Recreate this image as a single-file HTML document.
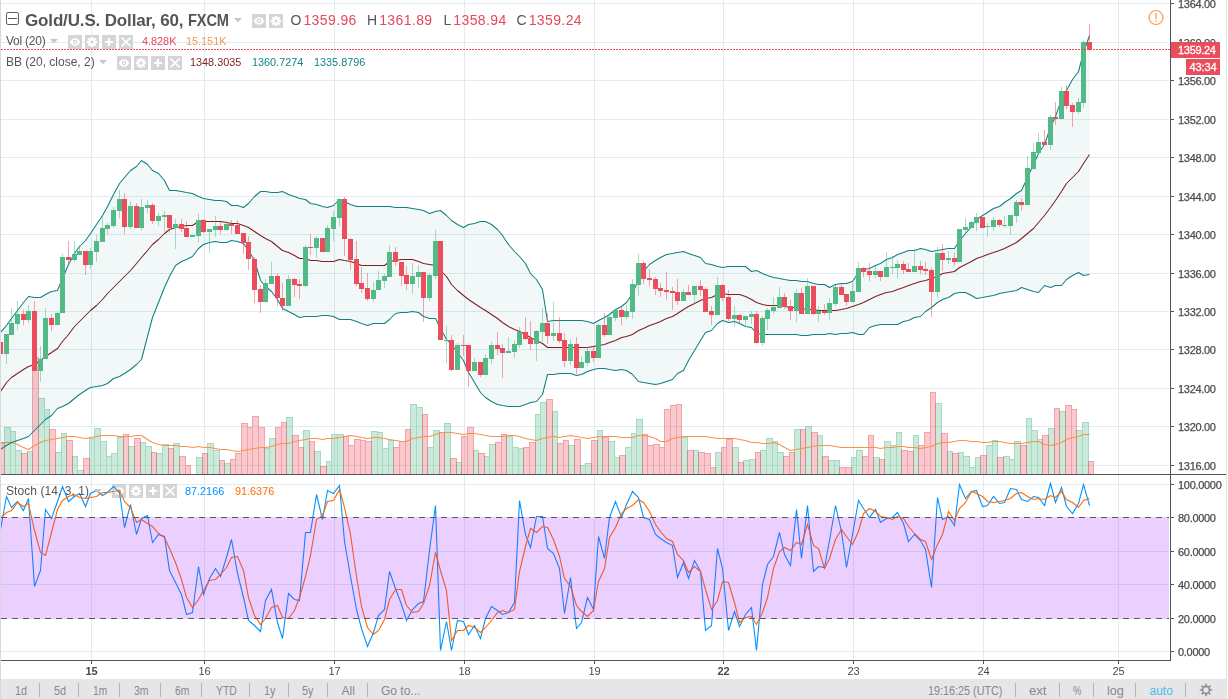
<!DOCTYPE html><html><head><meta charset="utf-8"><title>chart</title><style>
html,body{margin:0;padding:0;background:#fff;}
body{width:1228px;height:699px;position:relative;overflow:hidden;font-family:"Liberation Sans",sans-serif;}
.t{position:absolute;white-space:nowrap;line-height:1;}
.btn{position:absolute;width:13.5px;height:13.5px;background:rgba(198,198,198,.78);}
.tb{position:absolute;left:1px;top:679px;width:1225px;height:20px;background:#e6e6e8;}
.tb span{position:absolute;top:4.5px;font-size:12px;color:#858893;line-height:14px;white-space:nowrap;}
.tb i{position:absolute;top:4px;width:1px;height:14px;background:#b4b4b6;}
</style></head><body>
<svg width="1228" height="699" viewBox="0 0 1228 699" style="position:absolute;left:0;top:0;will-change:transform">
<defs><clipPath id="cm"><rect x="1" y="0" width="1169" height="474"/></clipPath></defs>
<path d="M1 3.5H1169 M1 42.5H1169 M1 80.5H1169 M1 119.5H1169 M1 157.5H1169 M1 196.5H1169 M1 234.5H1169 M1 273.5H1169 M1 311.5H1169 M1 349.5H1169 M1 388.5H1169 M1 426.5H1169 M1 465.5H1169 M91.5 0V474 M204.5 0V474 M334.5 0V474 M464.5 0V474 M594.5 0V474 M723.5 0V474 M853.5 0V474 M983.5 0V474 M1118.5 0V474 M1 484.5H1169 M1 551.5H1169 M1 584.5H1169 M1 651.5H1169 M91.5 475V660 M204.5 475V660 M334.5 475V660 M464.5 475V660 M594.5 475V660 M723.5 475V660 M853.5 475V660 M983.5 475V660 M1118.5 475V660" stroke="#e1ecf2" stroke-width="1" fill="none" shape-rendering="crispEdges"/>
<g clip-path="url(#cm)">
<path d="M4 427H11V474H4Z M10 431H16V474H10Z M15 450H22V474H15Z M27 451H33V474H27Z M38 398H45V474H38Z M44 409H50V474H44Z M55 452H62V474H55Z M61 433H67V474H61Z M72 456H78V474H72Z M77 470H84V474H77Z M89 438H95V474H89Z M94 428H101V474H94Z M100 441H107V474H100Z M106 456H112V474H106Z M111 453H118V474H111Z M117 437H124V474H117Z M128 446H135V474H128Z M140 442H146V474H140Z M145 446H152V474H145Z M156 453H163V474H156Z M162 444H169V474H162Z M173 443H180V474H173Z M190 474H197V474H190Z M196 457H203V474H196Z M207 443H214V474H207Z M213 450H220V474H213Z M224 463H231V474H224Z M264 448H270V474H264Z M269 438H276V474H269Z M286 417H293V474H286Z M303 430H310V474H303Z M314 451H321V474H314Z M326 461H332V474H326Z M331 434H338V474H331Z M337 434H344V474H337Z M371 431H378V474H371Z M377 432H383V474H377Z M382 448H389V474H382Z M388 440H394V474H388Z M410 404H417V474H410Z M416 407H423V474H416Z M427 447H434V474H427Z M433 430H440V474H433Z M444 423H451V474H444Z M456 462H462V474H456Z M473 450H479V474H473Z M484 456H490V474H484Z M489 444H496V474H489Z M506 436H513V474H506Z M512 447H519V474H512Z M518 448H524V474H518Z M535 414H541V474H535Z M540 402H547V474H540Z M552 411H558V474H552Z M568 445H575V474H568Z M580 465H586V474H580Z M585 463H592V474H585Z M597 430H603V474H597Z M608 441H615V474H608Z M614 457H620V474H614Z M625 447H632V474H625Z M631 433H637V474H631Z M636 419H643V474H636Z M681 437H688V474H681Z M693 450H699V474H693Z M715 452H722V474H715Z M732 447H739V474H732Z M743 460H750V474H743Z M749 459H756V474H749Z M760 450H767V474H760Z M766 438H773V474H766Z M772 441H778V474H772Z M777 452H784V474H777Z M794 429H801V474H794Z M805 426H812V474H805Z M817 435H823V474H817Z M828 460H835V474H828Z M834 460H840V474H834Z M851 457H857V474H851Z M856 450H863V474H856Z M873 457H880V474H873Z M884 441H891V474H884Z M890 445H897V474H890Z M896 432H902V474H896Z M913 435H919V474H913Z M935 403H942V474H935Z M947 451H953V474H947Z M958 452H964V474H958Z M963 456H970V474H963Z M969 467H976V474H969Z M975 457H981V474H975Z M986 445H993V474H986Z M992 440H998V474H992Z M1003 456H1010V474H1003Z M1009 459H1015V474H1009Z M1014 441H1021V474H1014Z M1026 418H1032V474H1026Z M1031 430H1038V474H1031Z M1037 439H1043V474H1037Z M1048 428H1055V474H1048Z M1059 411H1066V474H1059Z M1076 430H1083V474H1076Z M1082 422H1089V474H1082Z" fill="rgba(83,185,135,0.3)" shape-rendering="crispEdges"/>
<path d="M-2 443H5V474H-2Z M21 453H28V474H21Z M32 357H39V474H32Z M49 429H56V474H49Z M66 440H73V474H66Z M83 458H90V474H83Z M123 434H129V474H123Z M134 438H141V474H134Z M151 452H157V474H151Z M168 448H174V474H168Z M179 456H186V474H179Z M185 465H191V474H185Z M202 453H208V474H202Z M219 460H225V474H219Z M230 459H236V474H230Z M235 453H242V474H235Z M241 423H248V474H241Z M247 427H253V474H247Z M252 416H259V474H252Z M258 427H265V474H258Z M275 427H282V474H275Z M281 422H287V474H281Z M292 435H299V474H292Z M298 447H304V474H298Z M309 441H315V474H309Z M320 466H327V474H320Z M343 436H349V474H343Z M348 445H355V474H348Z M354 439H361V474H354Z M360 440H366V474H360Z M365 441H372V474H365Z M393 447H400V474H393Z M399 441H406V474H399Z M405 429H411V474H405Z M422 414H428V474H422Z M439 432H445V474H439Z M450 458H457V474H450Z M461 436H468V474H461Z M467 427H474V474H467Z M478 453H485V474H478Z M495 442H502V474H495Z M501 434H507V474H501Z M523 447H530V474H523Z M529 442H536V474H529Z M546 399H553V474H546Z M557 443H564V474H557Z M563 440H569V474H563Z M574 439H581V474H574Z M591 440H598V474H591Z M602 437H609V474H602Z M619 455H626V474H619Z M642 434H648V474H642Z M647 445H654V474H647Z M653 444H660V474H653Z M659 447H665V474H659Z M664 409H671V474H664Z M670 405H677V474H670Z M676 404H682V474H676Z M687 450H694V474H687Z M698 452H705V474H698Z M704 453H711V474H704Z M710 467H716V474H710Z M721 447H727V474H721Z M726 439H733V474H726Z M738 462H744V474H738Z M755 452H761V474H755Z M783 456H790V474H783Z M789 452H795V474H789Z M800 429H806V474H800Z M811 432H818V474H811Z M822 456H829V474H822Z M839 467H846V474H839Z M845 467H852V474H845Z M862 456H869V474H862Z M868 435H874V474H868Z M879 459H885V474H879Z M901 450H908V474H901Z M907 451H914V474H907Z M918 445H925V474H918Z M924 432H931V474H924Z M930 392H936V474H930Z M941 433H948V474H941Z M952 453H959V474H952Z M980 455H987V474H980Z M997 457H1004V474H997Z M1020 445H1027V474H1020Z M1042 435H1049V474H1042Z M1054 408H1060V474H1054Z M1065 405H1072V474H1065Z M1071 409H1077V474H1071Z M1088 461H1094V474H1088Z" fill="rgba(235,77,92,0.3)" shape-rendering="crispEdges"/>
<path d="M4.5 474V427.5H10.5V474 M10.5 474V431.5H15.5V474 M15.5 474V450.5H21.5V474 M27.5 474V451.5H32.5V474 M38.5 474V398.5H44.5V474 M44.5 474V409.5H49.5V474 M55.5 474V452.5H61.5V474 M61.5 474V433.5H66.5V474 M72.5 474V456.5H77.5V474 M77.5 474V470.5H83.5V474 M89.5 474V438.5H94.5V474 M94.5 474V428.5H100.5V474 M100.5 474V441.5H106.5V474 M106.5 474V456.5H111.5V474 M111.5 474V453.5H117.5V474 M117.5 474V437.5H123.5V474 M128.5 474V446.5H134.5V474 M140.5 474V442.5H145.5V474 M145.5 474V446.5H151.5V474 M156.5 474V453.5H162.5V474 M162.5 474V444.5H168.5V474 M173.5 474V443.5H179.5V474 M190.5 474V474.5H196.5V474 M196.5 474V457.5H202.5V474 M207.5 474V443.5H213.5V474 M213.5 474V450.5H219.5V474 M224.5 474V463.5H230.5V474 M264.5 474V448.5H269.5V474 M269.5 474V438.5H275.5V474 M286.5 474V417.5H292.5V474 M303.5 474V430.5H309.5V474 M314.5 474V451.5H320.5V474 M326.5 474V461.5H331.5V474 M331.5 474V434.5H337.5V474 M337.5 474V434.5H343.5V474 M371.5 474V431.5H377.5V474 M377.5 474V432.5H382.5V474 M382.5 474V448.5H388.5V474 M388.5 474V440.5H393.5V474 M410.5 474V404.5H416.5V474 M416.5 474V407.5H422.5V474 M427.5 474V447.5H433.5V474 M433.5 474V430.5H439.5V474 M444.5 474V423.5H450.5V474 M456.5 474V462.5H461.5V474 M473.5 474V450.5H478.5V474 M484.5 474V456.5H489.5V474 M489.5 474V444.5H495.5V474 M506.5 474V436.5H512.5V474 M512.5 474V447.5H518.5V474 M518.5 474V448.5H523.5V474 M535.5 474V414.5H540.5V474 M540.5 474V402.5H546.5V474 M552.5 474V411.5H557.5V474 M568.5 474V445.5H574.5V474 M580.5 474V465.5H585.5V474 M585.5 474V463.5H591.5V474 M597.5 474V430.5H602.5V474 M608.5 474V441.5H614.5V474 M614.5 474V457.5H619.5V474 M625.5 474V447.5H631.5V474 M631.5 474V433.5H636.5V474 M636.5 474V419.5H642.5V474 M681.5 474V437.5H687.5V474 M693.5 474V450.5H698.5V474 M715.5 474V452.5H721.5V474 M732.5 474V447.5H738.5V474 M743.5 474V460.5H749.5V474 M749.5 474V459.5H755.5V474 M760.5 474V450.5H766.5V474 M766.5 474V438.5H772.5V474 M772.5 474V441.5H777.5V474 M777.5 474V452.5H783.5V474 M794.5 474V429.5H800.5V474 M805.5 474V426.5H811.5V474 M817.5 474V435.5H822.5V474 M828.5 474V460.5H834.5V474 M834.5 474V460.5H839.5V474 M851.5 474V457.5H856.5V474 M856.5 474V450.5H862.5V474 M873.5 474V457.5H879.5V474 M884.5 474V441.5H890.5V474 M890.5 474V445.5H896.5V474 M896.5 474V432.5H901.5V474 M913.5 474V435.5H918.5V474 M935.5 474V403.5H941.5V474 M947.5 474V451.5H952.5V474 M958.5 474V452.5H963.5V474 M963.5 474V456.5H969.5V474 M969.5 474V467.5H975.5V474 M975.5 474V457.5H980.5V474 M986.5 474V445.5H992.5V474 M992.5 474V440.5H997.5V474 M1003.5 474V456.5H1009.5V474 M1009.5 474V459.5H1014.5V474 M1014.5 474V441.5H1020.5V474 M1026.5 474V418.5H1031.5V474 M1031.5 474V430.5H1037.5V474 M1037.5 474V439.5H1042.5V474 M1048.5 474V428.5H1054.5V474 M1059.5 474V411.5H1065.5V474 M1076.5 474V430.5H1082.5V474 M1082.5 474V422.5H1088.5V474" fill="none" stroke="rgba(83,185,135,0.32)" stroke-width="1" shape-rendering="crispEdges"/>
<path d="M-1.5 474V443.5H4.5V474 M21.5 474V453.5H27.5V474 M32.5 474V357.5H38.5V474 M49.5 474V429.5H55.5V474 M66.5 474V440.5H72.5V474 M83.5 474V458.5H89.5V474 M123.5 474V434.5H128.5V474 M134.5 474V438.5H140.5V474 M151.5 474V452.5H156.5V474 M168.5 474V448.5H173.5V474 M179.5 474V456.5H185.5V474 M185.5 474V465.5H190.5V474 M202.5 474V453.5H207.5V474 M219.5 474V460.5H224.5V474 M230.5 474V459.5H235.5V474 M235.5 474V453.5H241.5V474 M241.5 474V423.5H247.5V474 M247.5 474V427.5H252.5V474 M252.5 474V416.5H258.5V474 M258.5 474V427.5H264.5V474 M275.5 474V427.5H281.5V474 M281.5 474V422.5H286.5V474 M292.5 474V435.5H298.5V474 M298.5 474V447.5H303.5V474 M309.5 474V441.5H314.5V474 M320.5 474V466.5H326.5V474 M343.5 474V436.5H348.5V474 M348.5 474V445.5H354.5V474 M354.5 474V439.5H360.5V474 M360.5 474V440.5H365.5V474 M365.5 474V441.5H371.5V474 M393.5 474V447.5H399.5V474 M399.5 474V441.5H405.5V474 M405.5 474V429.5H410.5V474 M422.5 474V414.5H427.5V474 M439.5 474V432.5H444.5V474 M450.5 474V458.5H456.5V474 M461.5 474V436.5H467.5V474 M467.5 474V427.5H473.5V474 M478.5 474V453.5H484.5V474 M495.5 474V442.5H501.5V474 M501.5 474V434.5H506.5V474 M523.5 474V447.5H529.5V474 M529.5 474V442.5H535.5V474 M546.5 474V399.5H552.5V474 M557.5 474V443.5H563.5V474 M563.5 474V440.5H568.5V474 M574.5 474V439.5H580.5V474 M591.5 474V440.5H597.5V474 M602.5 474V437.5H608.5V474 M619.5 474V455.5H625.5V474 M642.5 474V434.5H647.5V474 M647.5 474V445.5H653.5V474 M653.5 474V444.5H659.5V474 M659.5 474V447.5H664.5V474 M664.5 474V409.5H670.5V474 M670.5 474V405.5H676.5V474 M676.5 474V404.5H681.5V474 M687.5 474V450.5H693.5V474 M698.5 474V452.5H704.5V474 M704.5 474V453.5H710.5V474 M710.5 474V467.5H715.5V474 M721.5 474V447.5H726.5V474 M726.5 474V439.5H732.5V474 M738.5 474V462.5H743.5V474 M755.5 474V452.5H760.5V474 M783.5 474V456.5H789.5V474 M789.5 474V452.5H794.5V474 M800.5 474V429.5H805.5V474 M811.5 474V432.5H817.5V474 M822.5 474V456.5H828.5V474 M839.5 474V467.5H845.5V474 M845.5 474V467.5H851.5V474 M862.5 474V456.5H868.5V474 M868.5 474V435.5H873.5V474 M879.5 474V459.5H884.5V474 M901.5 474V450.5H907.5V474 M907.5 474V451.5H913.5V474 M918.5 474V445.5H924.5V474 M924.5 474V432.5H930.5V474 M930.5 474V392.5H935.5V474 M941.5 474V433.5H947.5V474 M952.5 474V453.5H958.5V474 M980.5 474V455.5H986.5V474 M997.5 474V457.5H1003.5V474 M1020.5 474V445.5H1026.5V474 M1042.5 474V435.5H1048.5V474 M1054.5 474V408.5H1059.5V474 M1065.5 474V405.5H1071.5V474 M1071.5 474V409.5H1076.5V474 M1088.5 474V461.5H1093.5V474" fill="none" stroke="rgba(235,77,92,0.32)" stroke-width="1" shape-rendering="crispEdges"/>
<path d="M0.5 442.5 L6.5 442.5 L11.5 442.5 L17.5 444.5 L23.5 447.5 L28.5 449.5 L34.5 445.5 L40.5 442.5 L45.5 440.5 L51.5 439.5 L57.5 438.5 L62.5 437.5 L68.5 436.5 L74.5 436.5 L79.5 437.5 L85.5 438.5 L90.5 437.5 L96.5 436.5 L102.5 435.5 L107.5 435.5 L113.5 435.5 L119.5 436.5 L124.5 436.5 L130.5 436.5 L136.5 435.5 L141.5 435.5 L147.5 439.5 L152.5 442.5 L158.5 444.5 L164.5 445.5 L169.5 445.5 L175.5 445.5 L181.5 446.5 L186.5 446.5 L192.5 447.5 L198.5 446.5 L203.5 447.5 L209.5 447.5 L215.5 448.5 L220.5 449.5 L226.5 449.5 L231.5 450.5 L237.5 451.5 L243.5 450.5 L248.5 449.5 L254.5 448.5 L260.5 447.5 L265.5 447.5 L271.5 446.5 L277.5 444.5 L282.5 443.5 L288.5 443.5 L294.5 441.5 L299.5 440.5 L305.5 439.5 L310.5 438.5 L316.5 438.5 L322.5 439.5 L327.5 438.5 L333.5 438.5 L339.5 437.5 L344.5 436.5 L350.5 435.5 L356.5 436.5 L361.5 437.5 L367.5 438.5 L373.5 437.5 L378.5 437.5 L384.5 438.5 L389.5 439.5 L395.5 440.5 L401.5 441.5 L406.5 441.5 L412.5 438.5 L418.5 437.5 L423.5 436.5 L429.5 436.5 L435.5 434.5 L440.5 432.5 L446.5 432.5 L451.5 432.5 L457.5 433.5 L463.5 434.5 L468.5 433.5 L474.5 433.5 L480.5 434.5 L485.5 435.5 L491.5 436.5 L497.5 436.5 L502.5 436.5 L508.5 435.5 L514.5 435.5 L519.5 436.5 L525.5 438.5 L530.5 439.5 L536.5 440.5 L542.5 438.5 L547.5 437.5 L553.5 436.5 L559.5 437.5 L564.5 436.5 L570.5 435.5 L576.5 436.5 L581.5 437.5 L587.5 438.5 L593.5 437.5 L598.5 436.5 L604.5 436.5 L609.5 436.5 L615.5 436.5 L621.5 437.5 L626.5 437.5 L632.5 437.5 L638.5 435.5 L643.5 435.5 L649.5 436.5 L655.5 438.5 L660.5 441.5 L666.5 441.5 L672.5 438.5 L677.5 437.5 L683.5 436.5 L688.5 436.5 L694.5 436.5 L700.5 436.5 L705.5 436.5 L711.5 437.5 L717.5 438.5 L722.5 438.5 L728.5 438.5 L734.5 438.5 L739.5 439.5 L745.5 440.5 L751.5 442.5 L756.5 442.5 L762.5 443.5 L767.5 443.5 L773.5 442.5 L779.5 444.5 L784.5 447.5 L790.5 450.5 L796.5 449.5 L801.5 448.5 L807.5 447.5 L813.5 446.5 L818.5 445.5 L824.5 445.5 L829.5 445.5 L835.5 446.5 L841.5 447.5 L846.5 447.5 L852.5 447.5 L858.5 447.5 L863.5 447.5 L869.5 447.5 L875.5 447.5 L880.5 448.5 L886.5 447.5 L892.5 447.5 L897.5 446.5 L903.5 446.5 L908.5 447.5 L914.5 447.5 L920.5 448.5 L925.5 447.5 L931.5 446.5 L937.5 443.5 L942.5 442.5 L948.5 442.5 L954.5 441.5 L959.5 440.5 L965.5 440.5 L971.5 441.5 L976.5 441.5 L982.5 442.5 L987.5 442.5 L993.5 441.5 L999.5 441.5 L1004.5 442.5 L1010.5 443.5 L1016.5 443.5 L1021.5 443.5 L1027.5 442.5 L1033.5 441.5 L1038.5 441.5 L1044.5 444.5 L1050.5 445.5 L1055.5 444.5 L1061.5 442.5 L1066.5 439.5 L1072.5 437.5 L1078.5 436.5 L1083.5 434.5 L1089.5 434.5" fill="none" stroke="#f9924a" stroke-width="1.1" stroke-linejoin="round"/>
<path d="M0.5 332.5 L6.5 325.5 L11.5 318.5 L17.5 310.5 L23.5 302.5 L28.5 296.5 L34.5 297.5 L40.5 297.5 L45.5 294.5 L51.5 291.5 L57.5 290.5 L62.5 278.5 L68.5 264.5 L74.5 253.5 L79.5 246.5 L85.5 240.5 L90.5 233.5 L96.5 224.5 L102.5 215.5 L107.5 206.5 L113.5 194.5 L119.5 183.5 L124.5 177.5 L130.5 170.5 L136.5 166.5 L141.5 160.5 L147.5 164.5 L152.5 170.5 L158.5 173.5 L164.5 180.5 L169.5 190.5 L175.5 190.5 L181.5 191.5 L186.5 192.5 L192.5 193.5 L198.5 196.5 L203.5 198.5 L209.5 199.5 L215.5 200.5 L220.5 200.5 L226.5 201.5 L231.5 205.5 L237.5 205.5 L243.5 207.5 L248.5 203.5 L254.5 196.5 L260.5 191.5 L265.5 191.5 L271.5 192.5 L277.5 192.5 L282.5 191.5 L288.5 194.5 L294.5 196.5 L299.5 198.5 L305.5 199.5 L310.5 203.5 L316.5 204.5 L322.5 206.5 L327.5 207.5 L333.5 205.5 L339.5 199.5 L344.5 201.5 L350.5 204.5 L356.5 206.5 L361.5 206.5 L367.5 206.5 L373.5 206.5 L378.5 206.5 L384.5 206.5 L389.5 206.5 L395.5 207.5 L401.5 207.5 L406.5 207.5 L412.5 208.5 L418.5 209.5 L423.5 210.5 L429.5 213.5 L435.5 211.5 L440.5 210.5 L446.5 215.5 L451.5 220.5 L457.5 224.5 L463.5 227.5 L468.5 224.5 L474.5 223.5 L480.5 221.5 L485.5 221.5 L491.5 224.5 L497.5 229.5 L502.5 235.5 L508.5 244.5 L514.5 251.5 L519.5 256.5 L525.5 263.5 L530.5 273.5 L536.5 279.5 L542.5 289.5 L547.5 321.5 L553.5 320.5 L559.5 320.5 L564.5 320.5 L570.5 320.5 L576.5 320.5 L581.5 320.5 L587.5 321.5 L593.5 323.5 L598.5 320.5 L604.5 317.5 L609.5 314.5 L615.5 309.5 L621.5 306.5 L626.5 302.5 L632.5 293.5 L638.5 279.5 L643.5 271.5 L649.5 264.5 L655.5 260.5 L660.5 257.5 L666.5 254.5 L672.5 253.5 L677.5 252.5 L683.5 251.5 L688.5 253.5 L694.5 255.5 L700.5 257.5 L705.5 263.5 L711.5 264.5 L717.5 266.5 L722.5 267.5 L728.5 266.5 L734.5 266.5 L739.5 266.5 L745.5 266.5 L751.5 271.5 L756.5 270.5 L762.5 273.5 L767.5 275.5 L773.5 277.5 L779.5 278.5 L784.5 279.5 L790.5 280.5 L796.5 280.5 L801.5 281.5 L807.5 281.5 L813.5 283.5 L818.5 284.5 L824.5 284.5 L829.5 287.5 L835.5 284.5 L841.5 283.5 L846.5 283.5 L852.5 281.5 L858.5 272.5 L863.5 269.5 L869.5 268.5 L875.5 265.5 L880.5 263.5 L886.5 259.5 L892.5 257.5 L897.5 254.5 L903.5 252.5 L908.5 250.5 L914.5 250.5 L920.5 248.5 L925.5 249.5 L931.5 251.5 L937.5 250.5 L942.5 249.5 L948.5 248.5 L954.5 248.5 L959.5 240.5 L965.5 233.5 L971.5 226.5 L976.5 219.5 L982.5 215.5 L987.5 212.5 L993.5 208.5 L999.5 206.5 L1004.5 202.5 L1010.5 198.5 L1016.5 193.5 L1021.5 190.5 L1027.5 177.5 L1033.5 164.5 L1038.5 153.5 L1044.5 144.5 L1050.5 127.5 L1055.5 116.5 L1061.5 99.5 L1066.5 90.5 L1072.5 79.5 L1078.5 71.5 L1083.5 52.5 L1089.5 35.5 L1089.5 274.5 L1083.5 275.5 L1078.5 272.5 L1072.5 275.5 L1066.5 279.5 L1061.5 285.5 L1055.5 285.5 L1050.5 287.5 L1044.5 285.5 L1038.5 292.5 L1033.5 291.5 L1027.5 289.5 L1021.5 287.5 L1016.5 290.5 L1010.5 291.5 L1004.5 292.5 L999.5 293.5 L993.5 295.5 L987.5 296.5 L982.5 297.5 L976.5 298.5 L971.5 295.5 L965.5 292.5 L959.5 292.5 L954.5 293.5 L948.5 297.5 L942.5 299.5 L937.5 302.5 L931.5 307.5 L925.5 311.5 L920.5 316.5 L914.5 317.5 L908.5 320.5 L903.5 321.5 L897.5 324.5 L892.5 324.5 L886.5 324.5 L880.5 324.5 L875.5 325.5 L869.5 327.5 L863.5 334.5 L858.5 334.5 L852.5 332.5 L846.5 333.5 L841.5 333.5 L835.5 334.5 L829.5 333.5 L824.5 334.5 L818.5 334.5 L813.5 334.5 L807.5 335.5 L801.5 335.5 L796.5 334.5 L790.5 334.5 L784.5 334.5 L779.5 334.5 L773.5 334.5 L767.5 334.5 L762.5 334.5 L756.5 333.5 L751.5 327.5 L745.5 326.5 L739.5 323.5 L734.5 321.5 L728.5 322.5 L722.5 320.5 L717.5 323.5 L711.5 330.5 L705.5 332.5 L700.5 340.5 L694.5 350.5 L688.5 360.5 L683.5 370.5 L677.5 373.5 L672.5 379.5 L666.5 381.5 L660.5 383.5 L655.5 384.5 L649.5 383.5 L643.5 382.5 L638.5 381.5 L632.5 374.5 L626.5 370.5 L621.5 369.5 L615.5 370.5 L609.5 369.5 L604.5 368.5 L598.5 368.5 L593.5 369.5 L587.5 371.5 L581.5 374.5 L576.5 375.5 L570.5 373.5 L564.5 373.5 L559.5 373.5 L553.5 374.5 L547.5 374.5 L542.5 394.5 L536.5 401.5 L530.5 402.5 L525.5 404.5 L519.5 406.5 L514.5 406.5 L508.5 406.5 L502.5 405.5 L497.5 404.5 L491.5 401.5 L485.5 397.5 L480.5 392.5 L474.5 382.5 L468.5 372.5 L463.5 360.5 L457.5 352.5 L451.5 344.5 L446.5 339.5 L440.5 328.5 L435.5 318.5 L429.5 318.5 L423.5 316.5 L418.5 312.5 L412.5 311.5 L406.5 312.5 L401.5 312.5 L395.5 313.5 L389.5 319.5 L384.5 323.5 L378.5 323.5 L373.5 323.5 L367.5 325.5 L361.5 323.5 L356.5 321.5 L350.5 319.5 L344.5 319.5 L339.5 319.5 L333.5 316.5 L327.5 315.5 L322.5 315.5 L316.5 316.5 L310.5 316.5 L305.5 316.5 L299.5 317.5 L294.5 314.5 L288.5 311.5 L282.5 308.5 L277.5 299.5 L271.5 291.5 L265.5 286.5 L260.5 280.5 L254.5 260.5 L248.5 250.5 L243.5 243.5 L237.5 241.5 L231.5 240.5 L226.5 242.5 L220.5 242.5 L215.5 241.5 L209.5 242.5 L203.5 244.5 L198.5 248.5 L192.5 256.5 L186.5 259.5 L181.5 261.5 L175.5 265.5 L169.5 276.5 L164.5 287.5 L158.5 302.5 L152.5 317.5 L147.5 336.5 L141.5 359.5 L136.5 364.5 L130.5 369.5 L124.5 373.5 L119.5 376.5 L113.5 378.5 L107.5 383.5 L102.5 385.5 L96.5 386.5 L90.5 387.5 L85.5 390.5 L79.5 394.5 L74.5 398.5 L68.5 403.5 L62.5 406.5 L57.5 408.5 L51.5 415.5 L45.5 419.5 L40.5 424.5 L34.5 430.5 L28.5 436.5 L23.5 438.5 L17.5 440.5 L11.5 442.5 L6.5 445.5 L0.5 449.5Z" fill="rgba(19,132,132,0.055)"/>
<path d="M0.5 332.5 L6.5 325.5 L11.5 318.5 L17.5 310.5 L23.5 302.5 L28.5 296.5 L34.5 297.5 L40.5 297.5 L45.5 294.5 L51.5 291.5 L57.5 290.5 L62.5 278.5 L68.5 264.5 L74.5 253.5 L79.5 246.5 L85.5 240.5 L90.5 233.5 L96.5 224.5 L102.5 215.5 L107.5 206.5 L113.5 194.5 L119.5 183.5 L124.5 177.5 L130.5 170.5 L136.5 166.5 L141.5 160.5 L147.5 164.5 L152.5 170.5 L158.5 173.5 L164.5 180.5 L169.5 190.5 L175.5 190.5 L181.5 191.5 L186.5 192.5 L192.5 193.5 L198.5 196.5 L203.5 198.5 L209.5 199.5 L215.5 200.5 L220.5 200.5 L226.5 201.5 L231.5 205.5 L237.5 205.5 L243.5 207.5 L248.5 203.5 L254.5 196.5 L260.5 191.5 L265.5 191.5 L271.5 192.5 L277.5 192.5 L282.5 191.5 L288.5 194.5 L294.5 196.5 L299.5 198.5 L305.5 199.5 L310.5 203.5 L316.5 204.5 L322.5 206.5 L327.5 207.5 L333.5 205.5 L339.5 199.5 L344.5 201.5 L350.5 204.5 L356.5 206.5 L361.5 206.5 L367.5 206.5 L373.5 206.5 L378.5 206.5 L384.5 206.5 L389.5 206.5 L395.5 207.5 L401.5 207.5 L406.5 207.5 L412.5 208.5 L418.5 209.5 L423.5 210.5 L429.5 213.5 L435.5 211.5 L440.5 210.5 L446.5 215.5 L451.5 220.5 L457.5 224.5 L463.5 227.5 L468.5 224.5 L474.5 223.5 L480.5 221.5 L485.5 221.5 L491.5 224.5 L497.5 229.5 L502.5 235.5 L508.5 244.5 L514.5 251.5 L519.5 256.5 L525.5 263.5 L530.5 273.5 L536.5 279.5 L542.5 289.5 L547.5 321.5 L553.5 320.5 L559.5 320.5 L564.5 320.5 L570.5 320.5 L576.5 320.5 L581.5 320.5 L587.5 321.5 L593.5 323.5 L598.5 320.5 L604.5 317.5 L609.5 314.5 L615.5 309.5 L621.5 306.5 L626.5 302.5 L632.5 293.5 L638.5 279.5 L643.5 271.5 L649.5 264.5 L655.5 260.5 L660.5 257.5 L666.5 254.5 L672.5 253.5 L677.5 252.5 L683.5 251.5 L688.5 253.5 L694.5 255.5 L700.5 257.5 L705.5 263.5 L711.5 264.5 L717.5 266.5 L722.5 267.5 L728.5 266.5 L734.5 266.5 L739.5 266.5 L745.5 266.5 L751.5 271.5 L756.5 270.5 L762.5 273.5 L767.5 275.5 L773.5 277.5 L779.5 278.5 L784.5 279.5 L790.5 280.5 L796.5 280.5 L801.5 281.5 L807.5 281.5 L813.5 283.5 L818.5 284.5 L824.5 284.5 L829.5 287.5 L835.5 284.5 L841.5 283.5 L846.5 283.5 L852.5 281.5 L858.5 272.5 L863.5 269.5 L869.5 268.5 L875.5 265.5 L880.5 263.5 L886.5 259.5 L892.5 257.5 L897.5 254.5 L903.5 252.5 L908.5 250.5 L914.5 250.5 L920.5 248.5 L925.5 249.5 L931.5 251.5 L937.5 250.5 L942.5 249.5 L948.5 248.5 L954.5 248.5 L959.5 240.5 L965.5 233.5 L971.5 226.5 L976.5 219.5 L982.5 215.5 L987.5 212.5 L993.5 208.5 L999.5 206.5 L1004.5 202.5 L1010.5 198.5 L1016.5 193.5 L1021.5 190.5 L1027.5 177.5 L1033.5 164.5 L1038.5 153.5 L1044.5 144.5 L1050.5 127.5 L1055.5 116.5 L1061.5 99.5 L1066.5 90.5 L1072.5 79.5 L1078.5 71.5 L1083.5 52.5 L1089.5 35.5" fill="none" stroke="#108080" stroke-width="1.05" stroke-linejoin="round"/>
<path d="M0.5 449.5 L6.5 445.5 L11.5 442.5 L17.5 440.5 L23.5 438.5 L28.5 436.5 L34.5 430.5 L40.5 424.5 L45.5 419.5 L51.5 415.5 L57.5 408.5 L62.5 406.5 L68.5 403.5 L74.5 398.5 L79.5 394.5 L85.5 390.5 L90.5 387.5 L96.5 386.5 L102.5 385.5 L107.5 383.5 L113.5 378.5 L119.5 376.5 L124.5 373.5 L130.5 369.5 L136.5 364.5 L141.5 359.5 L147.5 336.5 L152.5 317.5 L158.5 302.5 L164.5 287.5 L169.5 276.5 L175.5 265.5 L181.5 261.5 L186.5 259.5 L192.5 256.5 L198.5 248.5 L203.5 244.5 L209.5 242.5 L215.5 241.5 L220.5 242.5 L226.5 242.5 L231.5 240.5 L237.5 241.5 L243.5 243.5 L248.5 250.5 L254.5 260.5 L260.5 280.5 L265.5 286.5 L271.5 291.5 L277.5 299.5 L282.5 308.5 L288.5 311.5 L294.5 314.5 L299.5 317.5 L305.5 316.5 L310.5 316.5 L316.5 316.5 L322.5 315.5 L327.5 315.5 L333.5 316.5 L339.5 319.5 L344.5 319.5 L350.5 319.5 L356.5 321.5 L361.5 323.5 L367.5 325.5 L373.5 323.5 L378.5 323.5 L384.5 323.5 L389.5 319.5 L395.5 313.5 L401.5 312.5 L406.5 312.5 L412.5 311.5 L418.5 312.5 L423.5 316.5 L429.5 318.5 L435.5 318.5 L440.5 328.5 L446.5 339.5 L451.5 344.5 L457.5 352.5 L463.5 360.5 L468.5 372.5 L474.5 382.5 L480.5 392.5 L485.5 397.5 L491.5 401.5 L497.5 404.5 L502.5 405.5 L508.5 406.5 L514.5 406.5 L519.5 406.5 L525.5 404.5 L530.5 402.5 L536.5 401.5 L542.5 394.5 L547.5 374.5 L553.5 374.5 L559.5 373.5 L564.5 373.5 L570.5 373.5 L576.5 375.5 L581.5 374.5 L587.5 371.5 L593.5 369.5 L598.5 368.5 L604.5 368.5 L609.5 369.5 L615.5 370.5 L621.5 369.5 L626.5 370.5 L632.5 374.5 L638.5 381.5 L643.5 382.5 L649.5 383.5 L655.5 384.5 L660.5 383.5 L666.5 381.5 L672.5 379.5 L677.5 373.5 L683.5 370.5 L688.5 360.5 L694.5 350.5 L700.5 340.5 L705.5 332.5 L711.5 330.5 L717.5 323.5 L722.5 320.5 L728.5 322.5 L734.5 321.5 L739.5 323.5 L745.5 326.5 L751.5 327.5 L756.5 333.5 L762.5 334.5 L767.5 334.5 L773.5 334.5 L779.5 334.5 L784.5 334.5 L790.5 334.5 L796.5 334.5 L801.5 335.5 L807.5 335.5 L813.5 334.5 L818.5 334.5 L824.5 334.5 L829.5 333.5 L835.5 334.5 L841.5 333.5 L846.5 333.5 L852.5 332.5 L858.5 334.5 L863.5 334.5 L869.5 327.5 L875.5 325.5 L880.5 324.5 L886.5 324.5 L892.5 324.5 L897.5 324.5 L903.5 321.5 L908.5 320.5 L914.5 317.5 L920.5 316.5 L925.5 311.5 L931.5 307.5 L937.5 302.5 L942.5 299.5 L948.5 297.5 L954.5 293.5 L959.5 292.5 L965.5 292.5 L971.5 295.5 L976.5 298.5 L982.5 297.5 L987.5 296.5 L993.5 295.5 L999.5 293.5 L1004.5 292.5 L1010.5 291.5 L1016.5 290.5 L1021.5 287.5 L1027.5 289.5 L1033.5 291.5 L1038.5 292.5 L1044.5 285.5 L1050.5 287.5 L1055.5 285.5 L1061.5 285.5 L1066.5 279.5 L1072.5 275.5 L1078.5 272.5 L1083.5 275.5 L1089.5 274.5" fill="none" stroke="#108080" stroke-width="1.05" stroke-linejoin="round"/>
<path d="M0.5 391.5 L6.5 382.5 L11.5 377.5 L17.5 373.5 L23.5 369.5 L28.5 366.5 L34.5 364.5 L40.5 360.5 L45.5 356.5 L51.5 352.5 L57.5 348.5 L62.5 341.5 L68.5 334.5 L74.5 326.5 L79.5 321.5 L85.5 315.5 L90.5 310.5 L96.5 305.5 L102.5 299.5 L107.5 293.5 L113.5 287.5 L119.5 281.5 L124.5 276.5 L130.5 270.5 L136.5 263.5 L141.5 257.5 L147.5 250.5 L152.5 244.5 L158.5 239.5 L164.5 233.5 L169.5 229.5 L175.5 227.5 L181.5 226.5 L186.5 225.5 L192.5 225.5 L198.5 221.5 L203.5 221.5 L209.5 221.5 L215.5 221.5 L220.5 221.5 L226.5 222.5 L231.5 223.5 L237.5 223.5 L243.5 225.5 L248.5 227.5 L254.5 231.5 L260.5 235.5 L265.5 238.5 L271.5 241.5 L277.5 246.5 L282.5 250.5 L288.5 252.5 L294.5 255.5 L299.5 258.5 L305.5 258.5 L310.5 260.5 L316.5 260.5 L322.5 261.5 L327.5 261.5 L333.5 261.5 L339.5 259.5 L344.5 260.5 L350.5 261.5 L356.5 263.5 L361.5 265.5 L367.5 265.5 L373.5 265.5 L378.5 265.5 L384.5 265.5 L389.5 261.5 L395.5 260.5 L401.5 259.5 L406.5 259.5 L412.5 259.5 L418.5 261.5 L423.5 263.5 L429.5 264.5 L435.5 265.5 L440.5 270.5 L446.5 276.5 L451.5 284.5 L457.5 290.5 L463.5 295.5 L468.5 299.5 L474.5 303.5 L480.5 307.5 L485.5 310.5 L491.5 314.5 L497.5 318.5 L502.5 322.5 L508.5 326.5 L514.5 329.5 L519.5 331.5 L525.5 334.5 L530.5 337.5 L536.5 340.5 L542.5 343.5 L547.5 347.5 L553.5 347.5 L559.5 347.5 L564.5 347.5 L570.5 347.5 L576.5 347.5 L581.5 347.5 L587.5 347.5 L593.5 346.5 L598.5 345.5 L604.5 344.5 L609.5 342.5 L615.5 340.5 L621.5 337.5 L626.5 336.5 L632.5 334.5 L638.5 330.5 L643.5 328.5 L649.5 325.5 L655.5 323.5 L660.5 321.5 L666.5 318.5 L672.5 316.5 L677.5 313.5 L683.5 309.5 L688.5 306.5 L694.5 303.5 L700.5 300.5 L705.5 298.5 L711.5 297.5 L717.5 294.5 L722.5 293.5 L728.5 294.5 L734.5 294.5 L739.5 294.5 L745.5 296.5 L751.5 299.5 L756.5 302.5 L762.5 304.5 L767.5 305.5 L773.5 305.5 L779.5 305.5 L784.5 306.5 L790.5 307.5 L796.5 307.5 L801.5 308.5 L807.5 309.5 L813.5 309.5 L818.5 310.5 L824.5 310.5 L829.5 310.5 L835.5 310.5 L841.5 309.5 L846.5 308.5 L852.5 306.5 L858.5 304.5 L863.5 302.5 L869.5 299.5 L875.5 296.5 L880.5 294.5 L886.5 292.5 L892.5 291.5 L897.5 289.5 L903.5 287.5 L908.5 285.5 L914.5 283.5 L920.5 281.5 L925.5 280.5 L931.5 278.5 L937.5 276.5 L942.5 273.5 L948.5 272.5 L954.5 271.5 L959.5 267.5 L965.5 264.5 L971.5 261.5 L976.5 258.5 L982.5 256.5 L987.5 254.5 L993.5 252.5 L999.5 250.5 L1004.5 248.5 L1010.5 245.5 L1016.5 242.5 L1021.5 238.5 L1027.5 233.5 L1033.5 228.5 L1038.5 222.5 L1044.5 215.5 L1050.5 207.5 L1055.5 200.5 L1061.5 191.5 L1066.5 183.5 L1072.5 177.5 L1078.5 171.5 L1083.5 163.5 L1089.5 154.5" fill="none" stroke="#801f1f" stroke-width="1.05" stroke-linejoin="round"/>
<path d="M6 334H7V364H6Z M11 308H12V335H11Z M17 301H18V330H17Z M28 305H29V323H28Z M40 346H41V382H40Z M45 308H46V359H45Z M57 312H58V325H57Z M62 254H63V313H62Z M74 241H75V262H74Z M79 245H80V255H79Z M90 248H91V269H90Z M96 235H97V262H96Z M102 216H103V242H102Z M107 223H108V234H107Z M113 207H114V228H113Z M119 190H120V218H119Z M130 201H131V229H130Z M141 199H142V231H141Z M147 200H148V213H147Z M158 213H159V226H158Z M164 211H165V232H164Z M175 219H176V249H175Z M192 235H193V237H192Z M198 213H199V243H198Z M209 229H210V253H209Z M215 216H216V237H215Z M226 221H227V231H226Z M265 279H266V303H265Z M271 262H272V284H271Z M288 275H289V306H288Z M305 245H306V287H305Z M316 236H317V258H316Z M327 225H328V252H327Z M333 211H334V241H333Z M339 198H340V226H339Z M373 282H374V302H373Z M378 271H379V290H378Z M384 274H385V288H384Z M389 245H390V277H389Z M412 263H413V294H412Z M418 265H419V288H418Z M429 274H430V301H429Z M435 230H436V279H435Z M446 326H447V363H446Z M457 343H458V370H457Z M474 358H475V371H474Z M485 354H486V375H485Z M491 342H492V364H491Z M508 337H509V353H508Z M514 340H515V358H514Z M519 327H520V348H519Z M536 330H537V361H536Z M542 308H543V342H542Z M553 302H554V341H553Z M570 339H571V365H570Z M581 356H582V368H581Z M587 347H588V366H587Z M598 324H599V358H598Z M609 314H610V335H609Z M615 309H616V321H615Z M626 305H627V319H626Z M632 279H633V319H632Z M638 254H639V296H638Z M683 289H684V301H683Z M694 286H695V304H694Z M717 277H718V315H717Z M734 306H735V327H734Z M745 316H746V325H745Z M751 311H752V324H751Z M762 316H763V346H762Z M767 308H768V330H767Z M773 297H774V314H773Z M779 287H780V308H779Z M796 289H797V322H796Z M807 278H808V314H807Z M818 306H819V322H818Z M829 298H830V320H829Z M835 285H836V306H835Z M852 283H853V302H852Z M858 262H859V292H858Z M875 266H876V278H875Z M886 252H887V277H886Z M892 256H893V274H892Z M897 260H898V278H897Z M914 249H915V272H914Z M937 247H938V298H937Z M948 251H949V264H948Z M959 229H960V262H959Z M965 218H966V235H965Z M971 221H972V228H971Z M976 213H977V231H976Z M987 223H988V237H987Z M993 217H994V231H993Z M1004 216H1005V228H1004Z M1010 215H1011V235H1010Z M1016 200H1017V223H1016Z M1027 156H1028V205H1027Z M1033 143H1034V170H1033Z M1038 133H1039V153H1038Z M1050 115H1051V150H1050Z M1061 87H1062V119H1061Z M1078 98H1079V114H1078Z M1083 40H1084V108H1083Z" fill="#53b987" fill-opacity="0.5" shape-rendering="crispEdges"/>
<path d="M0 342H1V354H0Z M23 310H24V325H23Z M34 301H35V371H34Z M51 314H52V331H51Z M68 241H69V266H68Z M85 251H86V275H85Z M124 193H125V234H124Z M136 203H137V228H136Z M152 203H153V224H152Z M169 215H170V233H169Z M181 219H182V232H181Z M186 221H187V237H186Z M203 219H204V233H203Z M220 222H221V234H220Z M231 220H232V234H231Z M237 220H238V234H237Z M243 233H244V254H243Z M248 236H249V270H248Z M254 257H255V303H254Z M260 285H261V313H260Z M277 273H278V306H277Z M282 283H283V311H282Z M294 278H295V297H294Z M299 279H300V299H299Z M310 234H311V255H310Z M322 238H323V252H322Z M344 197H345V256H344Z M350 238H351V270H350Z M356 241H357V286H356Z M361 267H362V293H361Z M367 273H368V301H367Z M395 247H396V266H395Z M401 262H402V286H401Z M406 266H407V290H406Z M423 272H424V322H423Z M440 241H441V340H440Z M451 335H452V371H451Z M463 335H464V356H463Z M468 345H469V387H468Z M480 362H481V377H480Z M497 332H498V355H497Z M502 344H503V378H502Z M525 317H526V340H525Z M530 321H531V350H530Z M547 313H548V344H547Z M559 317H560V343H559Z M564 333H565V367H564Z M576 337H577V374H576Z M593 347H594V362H593Z M604 313H605V337H604Z M621 306H622V325H621Z M643 261H644V284H643Z M649 269H650V286H649Z M655 277H656V295H655Z M660 283H661V297H660Z M666 272H667V300H666Z M672 287H673V310H672Z M677 279H678V305H677Z M688 285H689V295H688Z M700 280H701V296H700Z M705 287H706V312H705Z M711 306H712V325H711Z M722 284H723V301H722Z M728 290H729V321H728Z M739 314H740V323H739Z M756 311H757V343H756Z M784 293H785V309H784Z M790 300H791V320H790Z M801 288H802V314H801Z M813 286H814V315H813Z M824 304H825V315H824Z M841 284H842V295H841Z M846 294H847V306H846Z M863 267H864V277H863Z M869 263H870V281H869Z M880 271H881V281H880Z M903 261H904V274H903Z M908 263H909V272H908Z M920 261H921V274H920Z M925 262H926V275H925Z M931 267H932V317H931Z M942 244H943V271H942Z M954 252H955V266H954Z M982 217H983V228H982Z M999 219H1000V227H999Z M1021 198H1022V211H1021Z M1044 130H1045V145H1044Z M1055 102H1056V125H1055Z M1066 85H1067V109H1066Z M1072 103H1073V127H1072Z M1089 24H1090V51H1089Z" fill="#eb4d5c" fill-opacity="0.5" shape-rendering="crispEdges"/>
<path d="M4 334H9V354H4Z M9 323H14V335H9Z M15 314H20V324H15Z M26 311H31V320H26Z M38 359H43V371H38Z M43 318H48V359H43Z M55 313H60V325H55Z M60 257H65V313H60Z M72 254H77V260H72Z M77 251H82V255H77Z M88 251H93V265H88Z M94 241H99V252H94Z M100 228H105V242H100Z M105 225H110V229H105Z M111 210H116V226H111Z M117 199H122V211H117Z M128 206H133V227H128Z M139 207H144V228H139Z M145 205H150V208H145Z M156 216H161V221H156Z M162 215H167V217H162Z M173 224H178V228H173Z M190 235H195V237H190Z M196 220H201V236H196Z M207 229H212V232H207Z M213 226H218V230H213Z M224 224H229V230H224Z M263 283H268V302H263Z M269 276H274V284H269Z M286 279H291V306H286Z M303 247H308V286H303Z M314 238H319V248H314Z M325 228H330V252H325Z M331 217H336V229H331Z M337 199H342V218H337Z M371 290H376V299H371Z M376 280H381V290H376Z M382 276H387V281H382Z M387 252H392V277H387Z M410 276H415V284H410Z M416 272H421V277H416Z M427 275H432V298H427Z M433 241H438V276H433Z M444 340H449V341H444Z M455 345H460V370H455Z M472 362H477V371H472Z M483 358H488V375H483Z M489 345H494V359H489Z M506 351H511V353H506Z M512 344H517V352H512Z M517 332H522V345H517Z M534 331H539V344H534Z M540 323H545V332H540Z M551 333H556V336H551Z M568 344H573V361H568Z M579 362H584V368H579Z M585 351H590V363H585Z M596 325H601V358H596Z M607 317H612V335H607Z M613 310H618V318H613Z M624 311H629V317H624Z M630 284H635V312H630Z M636 263H641V285H636Z M681 292H686V301H681Z M692 286H697V295H692Z M715 285H720V315H715Z M732 315H737V319H732Z M743 316H748V320H743Z M749 314H754V317H749Z M760 318H765V343H760Z M765 310H770V319H765Z M771 307H776V311H771Z M777 297H782V308H777Z M794 293H799V311H794Z M805 286H810V314H805Z M816 311H821V314H816Z M827 303H832V313H827Z M833 287H838V304H833Z M850 291H855V302H850Z M856 268H861V292H856Z M873 271H878V275H873Z M884 267H889V277H884Z M890 267H895V268H890Z M895 264H900V268H895Z M912 266H917V272H912Z M935 253H940V292H935Z M946 258H951V260H946Z M957 229H962V262H957Z M963 227H968V230H963Z M969 222H974V228H969Z M974 217H979V223H974Z M985 226H990V227H985Z M991 220H996V227H991Z M1002 225H1007V226H1002Z M1008 215H1013V226H1008Z M1014 202H1019V216H1014Z M1025 168H1030V205H1025Z M1031 152H1036V169H1031Z M1036 142H1041V153H1036Z M1048 117H1053V145H1048Z M1059 91H1064V119H1059Z M1076 102H1081V112H1076Z M1081 42H1086V103H1081Z" fill="#53b987" shape-rendering="crispEdges"/>
<path d="M-2 342H3V354H-2Z M21 314H26V320H21Z M32 311H37V371H32Z M49 318H54V325H49Z M66 257H71V260H66Z M83 251H88V265H83Z M122 199H127V227H122Z M134 206H139V228H134Z M150 205H155V221H150Z M167 215H172V228H167Z M179 224H184V229H179Z M184 228H189V237H184Z M201 220H206V232H201Z M218 226H223V230H218Z M229 224H234V226H229Z M235 225H240V234H235Z M241 233H246V243H241Z M246 242H251V259H246Z M252 259H257V290H252Z M258 289H263V302H258Z M275 276H280V298H275Z M280 298H285V306H280Z M292 279H297V285H292Z M297 284H302V286H297Z M308 247H313V248H308Z M320 238H325V252H320Z M342 199H347V239H342Z M348 239H353V260H348Z M354 259H359V284H354Z M359 283H364V289H359Z M365 288H370V299H365Z M393 252H398V262H393Z M399 262H404V276H399Z M404 275H409V284H404Z M421 272H426V298H421Z M438 241H443V340H438Z M449 340H454V370H449Z M461 345H466V346H461Z M466 345H471V371H466Z M478 362H483V375H478Z M495 345H500V349H495Z M500 348H505V353H500Z M523 332H528V339H523Z M528 338H533V344H528Z M545 323H550V336H545Z M557 333H562V341H557Z M562 340H567V361H562Z M574 344H579V368H574Z M591 351H596V358H591Z M602 325H607V335H602Z M619 310H624V317H619Z M641 263H646V279H641Z M647 278H652V280H647Z M653 279H658V289H653Z M658 288H663V291H658Z M664 290H669V292H664Z M670 291H675V293H670Z M675 292H680V301H675Z M686 292H691V295H686Z M698 286H703V290H698Z M703 289H708V312H703Z M709 311H714V315H709Z M720 285H725V298H720Z M726 297H731V319H726Z M737 315H742V320H737Z M754 314H759V343H754Z M782 297H787V307H782Z M788 306H793V311H788Z M799 293H804V314H799Z M811 286H816V314H811Z M822 311H827V313H822Z M839 287H844V295H839Z M844 294H849V302H844Z M861 268H866V272H861Z M867 271H872V275H867Z M878 271H883V277H878Z M901 264H906V270H901Z M906 269H911V272H906Z M918 266H923V270H918Z M923 269H928V271H923Z M929 270H934V292H929Z M940 253H945V260H940Z M952 258H957V262H952Z M980 217H985V228H980Z M997 220H1002V225H997Z M1019 202H1024V205H1019Z M1042 142H1047V145H1042Z M1053 117H1058V119H1053Z M1064 91H1069V106H1064Z M1070 105H1075V112H1070Z M1087 42H1092V50H1087Z" fill="#eb4d5c" shape-rendering="crispEdges"/>
</g>
<path d="M1 49.5H1170" stroke="#eb4d5c" stroke-width="1" stroke-dasharray="2 1" shape-rendering="crispEdges"/>
<rect x="0" y="0" width="1" height="699" fill="#d6dade"/><rect x="1226" y="0" width="1" height="699" fill="#dde2e8"/><rect x="1170" y="0" width="1" height="661" fill="#555555"/><rect x="1" y="474" width="1225" height="1" fill="#555555"/><rect x="1" y="660" width="1170" height="1" fill="#555555"/><path d="M1171 3.5H1174 M1171 42.5H1174 M1171 80.5H1174 M1171 119.5H1174 M1171 157.5H1174 M1171 196.5H1174 M1171 234.5H1174 M1171 273.5H1174 M1171 311.5H1174 M1171 349.5H1174 M1171 388.5H1174 M1171 426.5H1174 M1171 465.5H1174 M1171 484.5H1174 M1171 517.5H1174 M1171 551.5H1174 M1171 584.5H1174 M1171 618.5H1174 M1171 651.5H1174 M91.5 661V664 M204.5 661V664 M334.5 661V664 M464.5 661V664 M594.5 661V664 M723.5 661V664 M853.5 661V664 M983.5 661V664 M1118.5 661V664" stroke="#555555" stroke-width="1" shape-rendering="crispEdges"/>
<g font-family="Liberation Sans, sans-serif" font-size="11" fill="#4a4a4a" stroke="#4a4a4a" stroke-width="0.25" letter-spacing="-0.3"><text x="1178" y="7.6">1364.00</text><text x="1178" y="46.6">1360.00</text><text x="1178" y="84.6">1356.00</text><text x="1178" y="123.6">1352.00</text><text x="1178" y="161.6">1348.00</text><text x="1178" y="200.6">1344.00</text><text x="1178" y="238.6">1340.00</text><text x="1178" y="277.6">1336.00</text><text x="1178" y="315.6">1332.00</text><text x="1178" y="353.6">1328.00</text><text x="1178" y="392.6">1324.00</text><text x="1178" y="430.6">1320.00</text><text x="1178" y="469.6">1316.00</text><text x="1178" y="488.6">100.0000</text><text x="1178" y="521.6">80.0000</text><text x="1178" y="555.6">60.0000</text><text x="1178" y="588.6">40.0000</text><text x="1178" y="622.6">20.0000</text><text x="1178" y="655.6">0.0000</text></g>
<g font-family="Liberation Sans, sans-serif" font-size="11" fill="#4a4a4a"><text x="91.5" y="675" text-anchor="middle" font-weight="bold">15</text><text x="204.5" y="675" text-anchor="middle">16</text><text x="334.5" y="675" text-anchor="middle">17</text><text x="464.5" y="675" text-anchor="middle">18</text><text x="594.5" y="675" text-anchor="middle">19</text><text x="723.5" y="675" text-anchor="middle" font-weight="bold">22</text><text x="853.5" y="675" text-anchor="middle">23</text><text x="983.5" y="675" text-anchor="middle">24</text><text x="1118.5" y="675" text-anchor="middle">25</text></g>
<rect x="1171" y="42" width="49" height="16" fill="#eb4d5c"/><rect x="1186" y="59" width="34" height="16" fill="#eb4d5c"/>
<g font-family="Liberation Sans, sans-serif" font-size="11" fill="#fff" stroke="#fff" stroke-width="0.3" letter-spacing="-0.3"><text x="1178" y="54">1359.24</text><text x="1189.5" y="71" letter-spacing="-0.1">43:34</text></g>
<g fill="none" stroke="#f79a4e" stroke-width="1.2"><circle cx="1156" cy="17.5" r="7"/><path d="M1156 13V19M1156 20.6V22" stroke-width="1.3"/></g>
</svg>
<svg style="position:absolute;left:6px;top:12px" width="14" height="15"><rect x=".5" y=".5" width="12" height="12" rx="1.6" fill="#fff" stroke="#5a5a5a" stroke-width="1"/><path d="M2 6.5H10.5" stroke="#5a5a5a" stroke-width="1" shape-rendering="crispEdges"/></svg>
<div class="t" id="title" style="left:25px;top:12px;font-size:17px;font-weight:bold;color:#555;letter-spacing:-0.15px">Gold/U.S. Dollar, 60, <span style="display:inline-block;transform:scaleX(.86);transform-origin:0 50%">FXCM</span></div>
<svg style="position:absolute;left:234px;top:18px" width="8" height="5"><path d="M0 0H8L4 4.2Z" fill="#c6c6c6"/></svg>
<svg style="position:absolute;left:252px;top:14px" width="14" height="14"><rect width="14" height="14" fill="#cacaca" fill-opacity=".8"/><path d="M1.9 7C3.6 2 10.4 2 12.1 7C10.4 12 3.6 12 1.9 7Z" fill="#fff"/><circle cx="7" cy="7" r="2.15" fill="#d2d2d2"/><circle cx="7" cy="7" r="1" fill="#fff"/></svg><svg style="position:absolute;left:269px;top:14px" width="14" height="14"><rect width="14" height="14" fill="#cacaca" fill-opacity=".8"/><g transform="translate(7 7)" fill="#fff"><circle r="3.5"/><rect x="-1.15" y="-5.1" width="2.3" height="3" transform="rotate(0)"/><rect x="-1.15" y="-5.1" width="2.3" height="3" transform="rotate(45)"/><rect x="-1.15" y="-5.1" width="2.3" height="3" transform="rotate(90)"/><rect x="-1.15" y="-5.1" width="2.3" height="3" transform="rotate(135)"/><rect x="-1.15" y="-5.1" width="2.3" height="3" transform="rotate(180)"/><rect x="-1.15" y="-5.1" width="2.3" height="3" transform="rotate(225)"/><rect x="-1.15" y="-5.1" width="2.3" height="3" transform="rotate(270)"/><rect x="-1.15" y="-5.1" width="2.3" height="3" transform="rotate(315)"/><circle r="1.5" fill="#d2d2d2"/></g></svg>
<div class="t" style="left:290.5px;top:13px;font-size:14px;color:#555">O<span style="color:#e8475b;margin-left:2px;letter-spacing:0.4px">1359.96</span></div><div class="t" style="left:367px;top:13px;font-size:14px;color:#555">H<span style="color:#e8475b;margin-left:2px;letter-spacing:0.4px">1361.89</span></div><div class="t" style="left:443.5px;top:13px;font-size:14px;color:#555">L<span style="color:#e8475b;margin-left:2px;letter-spacing:0.4px">1358.94</span></div><div class="t" style="left:516.5px;top:13px;font-size:14px;color:#555">C<span style="color:#e8475b;margin-left:2px;letter-spacing:0.4px">1359.24</span></div>
<div class="t" id="vol" style="left:6px;top:35px;font-size:12px;color:#555;letter-spacing:-0.23px">Vol (20)</div>
<svg style="position:absolute;left:50px;top:39px" width="8" height="5"><path d="M0 0H8L4 4.2Z" fill="#c6c6c6"/></svg>
<svg style="position:absolute;left:68px;top:35px" width="14" height="14"><rect width="14" height="14" fill="#cacaca" fill-opacity=".8"/><path d="M1.9 7C3.6 2 10.4 2 12.1 7C10.4 12 3.6 12 1.9 7Z" fill="#fff"/><circle cx="7" cy="7" r="2.15" fill="#d2d2d2"/><circle cx="7" cy="7" r="1" fill="#fff"/></svg>
<svg style="position:absolute;left:85px;top:35px" width="14" height="14"><rect width="14" height="14" fill="#cacaca" fill-opacity=".8"/><g transform="translate(7 7)" fill="#fff"><circle r="3.5"/><rect x="-1.15" y="-5.1" width="2.3" height="3" transform="rotate(0)"/><rect x="-1.15" y="-5.1" width="2.3" height="3" transform="rotate(45)"/><rect x="-1.15" y="-5.1" width="2.3" height="3" transform="rotate(90)"/><rect x="-1.15" y="-5.1" width="2.3" height="3" transform="rotate(135)"/><rect x="-1.15" y="-5.1" width="2.3" height="3" transform="rotate(180)"/><rect x="-1.15" y="-5.1" width="2.3" height="3" transform="rotate(225)"/><rect x="-1.15" y="-5.1" width="2.3" height="3" transform="rotate(270)"/><rect x="-1.15" y="-5.1" width="2.3" height="3" transform="rotate(315)"/><circle r="1.5" fill="#d2d2d2"/></g></svg>
<svg style="position:absolute;left:102px;top:35px" width="14" height="14"><rect width="14" height="14" fill="#cacaca" fill-opacity=".8"/><path d="M7 2.9V11.1M2.9 7H11.1" stroke="#fff" stroke-width="2.2"/></svg>
<svg style="position:absolute;left:119px;top:35px" width="14" height="14"><rect width="14" height="14" fill="#cacaca" fill-opacity=".8"/><path d="M2.5 2.6L11.6 11.3M11.6 2.6L2.5 11.3" stroke="#fff" stroke-width="1.6"/></svg>
<div class="t" id="v1" style="left:142px;top:36px;font-size:10.85px;color:#e8475b">4.828K</div>
<div class="t" id="v2" style="left:186px;top:36px;font-size:10.85px;color:#f79a4e">15.151K</div>
<div class="t" id="bb" style="left:6px;top:56px;font-size:12px;color:#555">BB (20, close, 2)</div>
<svg style="position:absolute;left:99px;top:60px" width="8" height="5"><path d="M0 0H8L4 4.2Z" fill="#c6c6c6"/></svg>
<svg style="position:absolute;left:117px;top:56px" width="14" height="14"><rect width="14" height="14" fill="#cacaca" fill-opacity=".8"/><path d="M1.9 7C3.6 2 10.4 2 12.1 7C10.4 12 3.6 12 1.9 7Z" fill="#fff"/><circle cx="7" cy="7" r="2.15" fill="#d2d2d2"/><circle cx="7" cy="7" r="1" fill="#fff"/></svg>
<svg style="position:absolute;left:134px;top:56px" width="14" height="14"><rect width="14" height="14" fill="#cacaca" fill-opacity=".8"/><g transform="translate(7 7)" fill="#fff"><circle r="3.5"/><rect x="-1.15" y="-5.1" width="2.3" height="3" transform="rotate(0)"/><rect x="-1.15" y="-5.1" width="2.3" height="3" transform="rotate(45)"/><rect x="-1.15" y="-5.1" width="2.3" height="3" transform="rotate(90)"/><rect x="-1.15" y="-5.1" width="2.3" height="3" transform="rotate(135)"/><rect x="-1.15" y="-5.1" width="2.3" height="3" transform="rotate(180)"/><rect x="-1.15" y="-5.1" width="2.3" height="3" transform="rotate(225)"/><rect x="-1.15" y="-5.1" width="2.3" height="3" transform="rotate(270)"/><rect x="-1.15" y="-5.1" width="2.3" height="3" transform="rotate(315)"/><circle r="1.5" fill="#d2d2d2"/></g></svg>
<svg style="position:absolute;left:151px;top:56px" width="14" height="14"><rect width="14" height="14" fill="#cacaca" fill-opacity=".8"/><path d="M7 2.9V11.1M2.9 7H11.1" stroke="#fff" stroke-width="2.2"/></svg>
<svg style="position:absolute;left:168px;top:56px" width="14" height="14"><rect width="14" height="14" fill="#cacaca" fill-opacity=".8"/><path d="M2.5 2.6L11.6 11.3M11.6 2.6L2.5 11.3" stroke="#fff" stroke-width="1.6"/></svg>
<div class="t" id="b1" style="left:190px;top:57px;font-size:10.85px;color:#872323">1348.3035</div>
<div class="t" id="b2" style="left:252px;top:57px;font-size:10.85px;color:#138484">1360.7274</div>
<div class="t" id="b3" style="left:314px;top:57px;font-size:10.85px;color:#138484">1335.8796</div>
<svg style="position:absolute;left:112px;top:484px" width="14" height="14"><rect width="14" height="14" fill="#cacaca" fill-opacity=".8"/><path d="M1.9 7C3.6 2 10.4 2 12.1 7C10.4 12 3.6 12 1.9 7Z" fill="#fff"/><circle cx="7" cy="7" r="2.15" fill="#d2d2d2"/><circle cx="7" cy="7" r="1" fill="#fff"/></svg>
<svg style="position:absolute;left:129px;top:484px" width="14" height="14"><rect width="14" height="14" fill="#cacaca" fill-opacity=".8"/><g transform="translate(7 7)" fill="#fff"><circle r="3.5"/><rect x="-1.15" y="-5.1" width="2.3" height="3" transform="rotate(0)"/><rect x="-1.15" y="-5.1" width="2.3" height="3" transform="rotate(45)"/><rect x="-1.15" y="-5.1" width="2.3" height="3" transform="rotate(90)"/><rect x="-1.15" y="-5.1" width="2.3" height="3" transform="rotate(135)"/><rect x="-1.15" y="-5.1" width="2.3" height="3" transform="rotate(180)"/><rect x="-1.15" y="-5.1" width="2.3" height="3" transform="rotate(225)"/><rect x="-1.15" y="-5.1" width="2.3" height="3" transform="rotate(270)"/><rect x="-1.15" y="-5.1" width="2.3" height="3" transform="rotate(315)"/><circle r="1.5" fill="#d2d2d2"/></g></svg>
<svg style="position:absolute;left:146px;top:484px" width="14" height="14"><rect width="14" height="14" fill="#cacaca" fill-opacity=".8"/><path d="M7 2.9V11.1M2.9 7H11.1" stroke="#fff" stroke-width="2.2"/></svg>
<svg style="position:absolute;left:163px;top:484px" width="14" height="14"><rect width="14" height="14" fill="#cacaca" fill-opacity=".8"/><path d="M2.5 2.6L11.6 11.3M11.6 2.6L2.5 11.3" stroke="#fff" stroke-width="1.6"/></svg>
<svg width="1228" height="699" viewBox="0 0 1228 699" style="position:absolute;left:0;top:0;will-change:transform"><defs><clipPath id="cs"><rect x="1" y="475" width="1169" height="185"/></clipPath></defs><g clip-path="url(#cs)"><path d="M0.5 529.5 L6.5 496.5 L11.5 507.5 L17.5 501.5 L23.5 510.5 L28.5 498.5 L34.5 586.5 L40.5 570.5 L45.5 509.5 L51.5 518.5 L57.5 501.5 L62.5 486.5 L68.5 501.5 L74.5 496.5 L79.5 493.5 L85.5 506.5 L90.5 493.5 L96.5 490.5 L102.5 495.5 L107.5 492.5 L113.5 486.5 L119.5 492.5 L124.5 527.5 L130.5 504.5 L136.5 534.5 L141.5 518.5 L147.5 515.5 L152.5 542.5 L158.5 534.5 L164.5 536.5 L169.5 570.5 L175.5 582.5 L181.5 594.5 L186.5 614.5 L192.5 612.5 L198.5 566.5 L203.5 594.5 L209.5 578.5 L215.5 568.5 L220.5 576.5 L226.5 557.5 L231.5 539.5 L237.5 573.5 L243.5 597.5 L248.5 620.5 L254.5 625.5 L260.5 631.5 L265.5 600.5 L271.5 589.5 L277.5 622.5 L282.5 638.5 L288.5 593.5 L294.5 599.5 L299.5 600.5 L305.5 532.5 L310.5 532.5 L316.5 494.5 L322.5 519.5 L327.5 490.5 L333.5 493.5 L339.5 485.5 L344.5 541.5 L350.5 576.5 L356.5 609.5 L361.5 628.5 L367.5 646.5 L373.5 632.5 L378.5 615.5 L384.5 609.5 L389.5 571.5 L395.5 588.5 L401.5 604.5 L406.5 620.5 L412.5 609.5 L418.5 603.5 L423.5 601.5 L429.5 550.5 L435.5 505.5 L440.5 650.5 L446.5 621.5 L451.5 650.5 L457.5 620.5 L463.5 621.5 L468.5 634.5 L474.5 625.5 L480.5 638.5 L485.5 618.5 L491.5 606.5 L497.5 610.5 L502.5 614.5 L508.5 612.5 L514.5 602.5 L519.5 500.5 L525.5 534.5 L530.5 547.5 L536.5 516.5 L542.5 516.5 L547.5 548.5 L553.5 553.5 L559.5 568.5 L564.5 613.5 L570.5 577.5 L576.5 628.5 L581.5 622.5 L587.5 597.5 L593.5 609.5 L598.5 536.5 L604.5 558.5 L609.5 517.5 L615.5 501.5 L621.5 517.5 L626.5 504.5 L632.5 491.5 L638.5 497.5 L643.5 517.5 L649.5 519.5 L655.5 534.5 L660.5 538.5 L666.5 542.5 L672.5 545.5 L677.5 577.5 L683.5 562.5 L688.5 578.5 L694.5 560.5 L700.5 571.5 L705.5 630.5 L711.5 625.5 L717.5 548.5 L722.5 568.5 L728.5 630.5 L734.5 611.5 L739.5 626.5 L745.5 614.5 L751.5 607.5 L756.5 650.5 L762.5 584.5 L767.5 564.5 L773.5 556.5 L779.5 532.5 L784.5 554.5 L790.5 565.5 L796.5 509.5 L801.5 558.5 L807.5 505.5 L813.5 571.5 L818.5 566.5 L824.5 567.5 L829.5 540.5 L835.5 505.5 L841.5 531.5 L846.5 567.5 L852.5 534.5 L858.5 500.5 L863.5 508.5 L869.5 517.5 L875.5 509.5 L880.5 522.5 L886.5 518.5 L892.5 517.5 L897.5 512.5 L903.5 523.5 L908.5 541.5 L914.5 534.5 L920.5 540.5 L925.5 549.5 L931.5 587.5 L937.5 497.5 L942.5 519.5 L948.5 516.5 L954.5 525.5 L959.5 484.5 L965.5 498.5 L971.5 491.5 L976.5 490.5 L982.5 506.5 L987.5 505.5 L993.5 496.5 L999.5 503.5 L1004.5 502.5 L1010.5 488.5 L1016.5 489.5 L1021.5 499.5 L1027.5 501.5 L1033.5 496.5 L1038.5 497.5 L1044.5 505.5 L1050.5 483.5 L1055.5 502.5 L1061.5 487.5 L1066.5 506.5 L1072.5 513.5 L1078.5 503.5 L1083.5 484.5 L1089.5 505.5" fill="none" stroke="#0094ff" stroke-width="1.1" stroke-linejoin="miter"/><path d="M0.5 518.5 L6.5 512.5 L11.5 510.5 L17.5 502.5 L23.5 506.5 L28.5 503.5 L34.5 530.5 L40.5 552.5 L45.5 555.5 L51.5 532.5 L57.5 509.5 L62.5 500.5 L68.5 496.5 L74.5 494.5 L79.5 497.5 L85.5 498.5 L90.5 497.5 L96.5 496.5 L102.5 492.5 L107.5 492.5 L113.5 491.5 L119.5 490.5 L124.5 501.5 L130.5 507.5 L136.5 522.5 L141.5 519.5 L147.5 523.5 L152.5 526.5 L158.5 533.5 L164.5 537.5 L169.5 548.5 L175.5 562.5 L181.5 579.5 L186.5 597.5 L192.5 607.5 L198.5 599.5 L203.5 590.5 L209.5 580.5 L215.5 579.5 L220.5 574.5 L226.5 567.5 L231.5 557.5 L237.5 556.5 L243.5 570.5 L248.5 597.5 L254.5 615.5 L260.5 624.5 L265.5 618.5 L271.5 607.5 L277.5 605.5 L282.5 617.5 L288.5 618.5 L294.5 610.5 L299.5 597.5 L305.5 576.5 L310.5 555.5 L316.5 519.5 L322.5 515.5 L327.5 501.5 L333.5 500.5 L339.5 489.5 L344.5 507.5 L350.5 534.5 L356.5 576.5 L361.5 606.5 L367.5 627.5 L373.5 634.5 L378.5 630.5 L384.5 619.5 L389.5 599.5 L395.5 589.5 L401.5 589.5 L406.5 605.5 L412.5 612.5 L418.5 611.5 L423.5 603.5 L429.5 585.5 L435.5 552.5 L440.5 570.5 L446.5 590.5 L451.5 640.5 L457.5 630.5 L463.5 630.5 L468.5 625.5 L474.5 627.5 L480.5 632.5 L485.5 627.5 L491.5 620.5 L497.5 612.5 L502.5 610.5 L508.5 612.5 L514.5 609.5 L519.5 571.5 L525.5 546.5 L530.5 528.5 L536.5 532.5 L542.5 526.5 L547.5 527.5 L553.5 539.5 L559.5 556.5 L564.5 578.5 L570.5 586.5 L576.5 605.5 L581.5 611.5 L587.5 616.5 L593.5 610.5 L598.5 581.5 L604.5 568.5 L609.5 537.5 L615.5 527.5 L621.5 513.5 L626.5 508.5 L632.5 505.5 L638.5 499.5 L643.5 502.5 L649.5 511.5 L655.5 524.5 L660.5 531.5 L666.5 538.5 L672.5 541.5 L677.5 554.5 L683.5 560.5 L688.5 572.5 L694.5 566.5 L700.5 571.5 L705.5 589.5 L711.5 609.5 L717.5 600.5 L722.5 581.5 L728.5 582.5 L734.5 602.5 L739.5 622.5 L745.5 617.5 L751.5 616.5 L756.5 624.5 L762.5 612.5 L767.5 597.5 L773.5 568.5 L779.5 551.5 L784.5 547.5 L790.5 550.5 L796.5 542.5 L801.5 544.5 L807.5 524.5 L813.5 545.5 L818.5 548.5 L824.5 568.5 L829.5 558.5 L835.5 539.5 L841.5 529.5 L846.5 536.5 L852.5 544.5 L858.5 531.5 L863.5 513.5 L869.5 508.5 L875.5 511.5 L880.5 516.5 L886.5 517.5 L892.5 519.5 L897.5 516.5 L903.5 518.5 L908.5 526.5 L914.5 533.5 L920.5 539.5 L925.5 541.5 L931.5 559.5 L937.5 544.5 L942.5 534.5 L948.5 511.5 L954.5 520.5 L959.5 508.5 L965.5 502.5 L971.5 491.5 L976.5 493.5 L982.5 496.5 L987.5 501.5 L993.5 502.5 L999.5 501.5 L1004.5 500.5 L1010.5 498.5 L1016.5 493.5 L1021.5 492.5 L1027.5 496.5 L1033.5 499.5 L1038.5 498.5 L1044.5 499.5 L1050.5 495.5 L1055.5 497.5 L1061.5 491.5 L1066.5 499.5 L1072.5 502.5 L1078.5 507.5 L1083.5 500.5 L1089.5 498.5" fill="none" stroke="#ff6a00" stroke-width="1.1" stroke-linejoin="miter"/><rect x="1" y="517" width="1168" height="102" fill="rgba(153,21,255,0.2)"/><path d="M1 517.5H1169M1 618.5H1169" stroke="#5a5a5a" stroke-width="1" stroke-dasharray="6 5" shape-rendering="crispEdges"/></g></svg>
<div class="t" id="st" style="left:6px;top:485px;font-size:12px;color:#555;letter-spacing:0.07px">Stoch (14, 3, 1)</div>
<svg style="position:absolute;left:94px;top:489px" width="8" height="5"><path d="M0 0H8L4 4.2Z" fill="#c6c6c6"/></svg>
<div class="t" id="s1" style="left:185px;top:486px;font-size:10.85px;color:#0094ff">87.2166</div>
<div class="t" id="s2" style="left:235px;top:486px;font-size:10.85px;color:#ff6a00">91.6376</div>
<div class="tb"><span style="left:14px;transform:scaleX(0.9);transform-origin:0 50%">1d</span><span style="left:52.7px;transform:scaleX(0.9);transform-origin:0 50%">5d</span><span style="left:92px;transform:scaleX(0.85);transform-origin:0 50%">1m</span><span style="left:132.7px;transform:scaleX(0.87);transform-origin:0 50%">3m</span><span style="left:173.5px;transform:scaleX(0.86);transform-origin:0 50%">6m</span><span style="left:214.5px;transform:scaleX(0.865);transform-origin:0 50%">YTD</span><span style="left:262.7px;transform:scaleX(0.9);transform-origin:0 50%">1y</span><span style="left:301px;transform:scaleX(0.9);transform-origin:0 50%">5y</span><span style="left:340.5px;transform:scaleX(1);transform-origin:0 50%">All</span><span style="left:380px;transform:scaleX(1);transform-origin:0 50%">Go to...</span><span style="left:927px;transform:scaleX(0.9);transform-origin:0 50%">19:16:25 (UTC)</span><span style="left:1028px;transform:scaleX(1.09);transform-origin:0 50%">ext</span><span style="left:1071.5px;transform:scaleX(0.78);transform-origin:0 50%">%</span><span style="left:1106px;transform:scaleX(1.05);transform-origin:0 50%">log</span><i style="left:38px"></i><i style="left:77px"></i><i style="left:118px"></i><i style="left:159px"></i><i style="left:200px"></i><i style="left:248px"></i><i style="left:287px"></i><i style="left:326px"></i><i style="left:366px"></i><i style="left:1014px"></i><i style="left:1058px"></i><i style="left:1092px"></i><i style="left:1134px"></i><i style="left:1184px"></i><span style="left:1148.5px;color:#4fb8e6">auto</span><svg style="position:absolute;left:1198px;top:4px" width="14" height="14" viewBox="0 0 14 14"><circle cx="7" cy="7" r="3.4" fill="none" stroke="#8a8a8a" stroke-width="1.5"/><path d="M7 .8V3M7 11V13.2M.8 7H3M11 7H13.2M2.6 2.6L4.2 4.2M9.8 9.8L11.4 11.4M2.6 11.4L4.2 9.8M9.8 4.2L11.4 2.6" stroke="#8a8a8a" stroke-width="1.6"/></svg></div>
</body></html>
